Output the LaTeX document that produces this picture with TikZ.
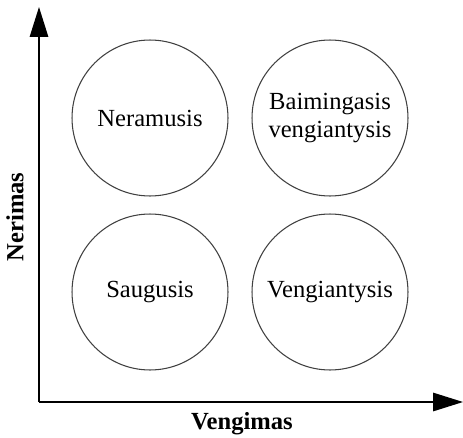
\documentclass[tikz,border=0pt]{standalone}
\usepackage{fontspec}
\setmainfont{Liberation Serif}
\usetikzlibrary{arrows.meta}

\begin{document}
\begin{tikzpicture}[x=0.02cm,y=0.02cm,
    zone/.style={circle,draw=black!75,line width=0.6pt,minimum size=3.12cm,
      inner sep=0pt,align=center,font=\fontsize{14}{16}\selectfont},
    axis/.style={line width=0.8pt,-{Triangle[length=0.6cm,width=0.37cm]}},
    axislabel/.style={font=\fontsize{14}{16}\selectfont\bfseries}]
    \useasboundingbox (0,0) rectangle (463,437);

    % axes
    \coordinate (O) at (39,35);
    \coordinate (ytop) at (39,430);
    \coordinate (xend) at (463,35);
    \draw[axis] (O) -- (ytop);
    \draw[axis] (O) -- (xend);
    \node[axislabel,rotate=90] (nerimas) at (15,220) {Nerimas};
    \node[axislabel] (vengimas) at (242,13) {Vengimas};

    % quadrants
    \node[zone] (neramusis) at (150,319) {Neramusis};
    \node[zone] (baimingasis) at (330,319) {Baimingasis\\vengiantysis};
    \node[zone] (saugusis) at (150,145) {Saugusis};
    \node[zone] (vengiantysis) at (330,145) {Vengiantysis};
\end{tikzpicture}
\end{document}
